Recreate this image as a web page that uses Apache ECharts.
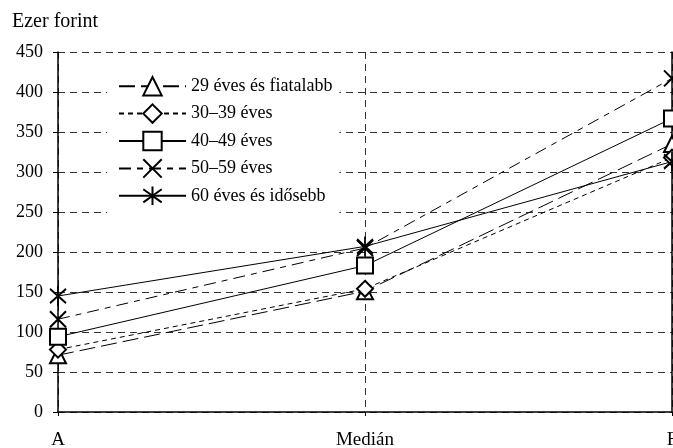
<!DOCTYPE html>
<html>
<head>
<meta charset="utf-8">
<script src="https://cdn.jsdelivr.net/npm/echarts@6/dist/echarts.min.js"></script>
<style>
html,body{margin:0;padding:0;background:#fff;}
#main{width:673px;height:448px;}
</style>
</head>
<body>
<div id="main"></div>
<script>
var categories = ['A', 'Medián', 'F'];
var seriesNames = ['29 éves és fiatalabb', '30–39 éves', '40–49 éves', '50–59 éves', '60 éves és idősebb'];
var s29 = [71, 151, 335];
var s30 = [78, 154, 318];
var s40 = [94, 183, 367];
var s50 = [116, 205, 417];
var s60 = [145, 207, 313];
var yTicks = [0, 50, 100, 150, 200, 250, 300, 350, 400, 450];

var FONT = '"Liberation Serif", "Times New Roman", serif';
var crossPath = 'path://M0,0L10,10M10,0L0,10';
var starPath = 'path://M0,2L10,12M10,2L0,12M5,0L5,14';

function mk(name, data, symbol, size, dash) {
  return {
    name: name,
    type: 'line',
    data: data,
    symbol: symbol,
    symbolSize: size,
    showSymbol: true,
    lineStyle: { color: '#000', width: 1, type: dash },
    itemStyle: { color: '#fff', borderColor: '#000', borderWidth: 2 },
    emphasis: { disabled: true }
  };
}

var chart = echarts.init(document.getElementById('main'));
chart.setOption({
  animation: false,
  backgroundColor: '#fff',
  textStyle: { fontFamily: FONT },
  graphic: [{
    type: 'text', left: 12, top: 12,
    style: { text: 'Ezer forint', font: '20px ' + FONT, fill: '#000' }
  }],
  grid: { left: 58, right: 1, top: 52, bottom: 36, outerBoundsMode: 'none', containLabel: false },
  legend: {
    orient: 'vertical',
    left: 107, top: 66,
    padding: [10, 7, 10, 11],
    backgroundColor: '#fff',
    itemWidth: 67, itemHeight: 23, itemGap: 7,
    textStyle: { fontFamily: FONT, fontSize: 18, color: '#000' },
    data: seriesNames
  },
  xAxis: {
    type: 'category',
    data: categories,
    boundaryGap: false,
    axisLine: { lineStyle: { color: '#000', width: 1.5 } },
    axisTick: { show: true, length: 4, lineStyle: { color: '#000' } },
    axisLabel: { color: '#000', fontFamily: FONT, fontSize: 19, margin: 19 },
    splitLine: { show: true, lineStyle: { color: '#333', type: [7, 5], width: 1 } }
  },
  yAxis: [{
    type: 'value',
    min: 0, max: 450, interval: 50,
    axisLine: { show: true, lineStyle: { color: '#000', width: 1.5 } },
    axisTick: { show: true, length: 5, lineStyle: { color: '#000' } },
    axisLabel: { color: '#000', fontFamily: FONT, fontSize: 18, margin: 15,
      formatter: function (v) { return yTicks.indexOf(v) >= 0 ? String(v) : ''; } },
    splitLine: { show: true, lineStyle: { color: '#333', type: [7, 5], width: 1 } }
  }, {
    type: 'value',
    position: 'right',
    min: 0, max: 450, interval: 50,
    axisLine: { show: true, lineStyle: { color: '#000', width: 1.5 } },
    axisTick: { show: false },
    axisLabel: { show: false },
    splitLine: { show: false }
  }],
  series: [
    mk(seriesNames[0], s29, 'triangle', 16, [16, 6]),
    mk(seriesNames[1], s30, 'diamond', 16, [5, 4]),
    mk(seriesNames[2], s40, 'rect', 16, 'solid'),
    mk(seriesNames[3], s50, crossPath, 16, [12, 6, 6, 6]),
    mk(seriesNames[4], s60, starPath, [16, 20], 'solid')
  ]
});
</script>
</body>
</html>
